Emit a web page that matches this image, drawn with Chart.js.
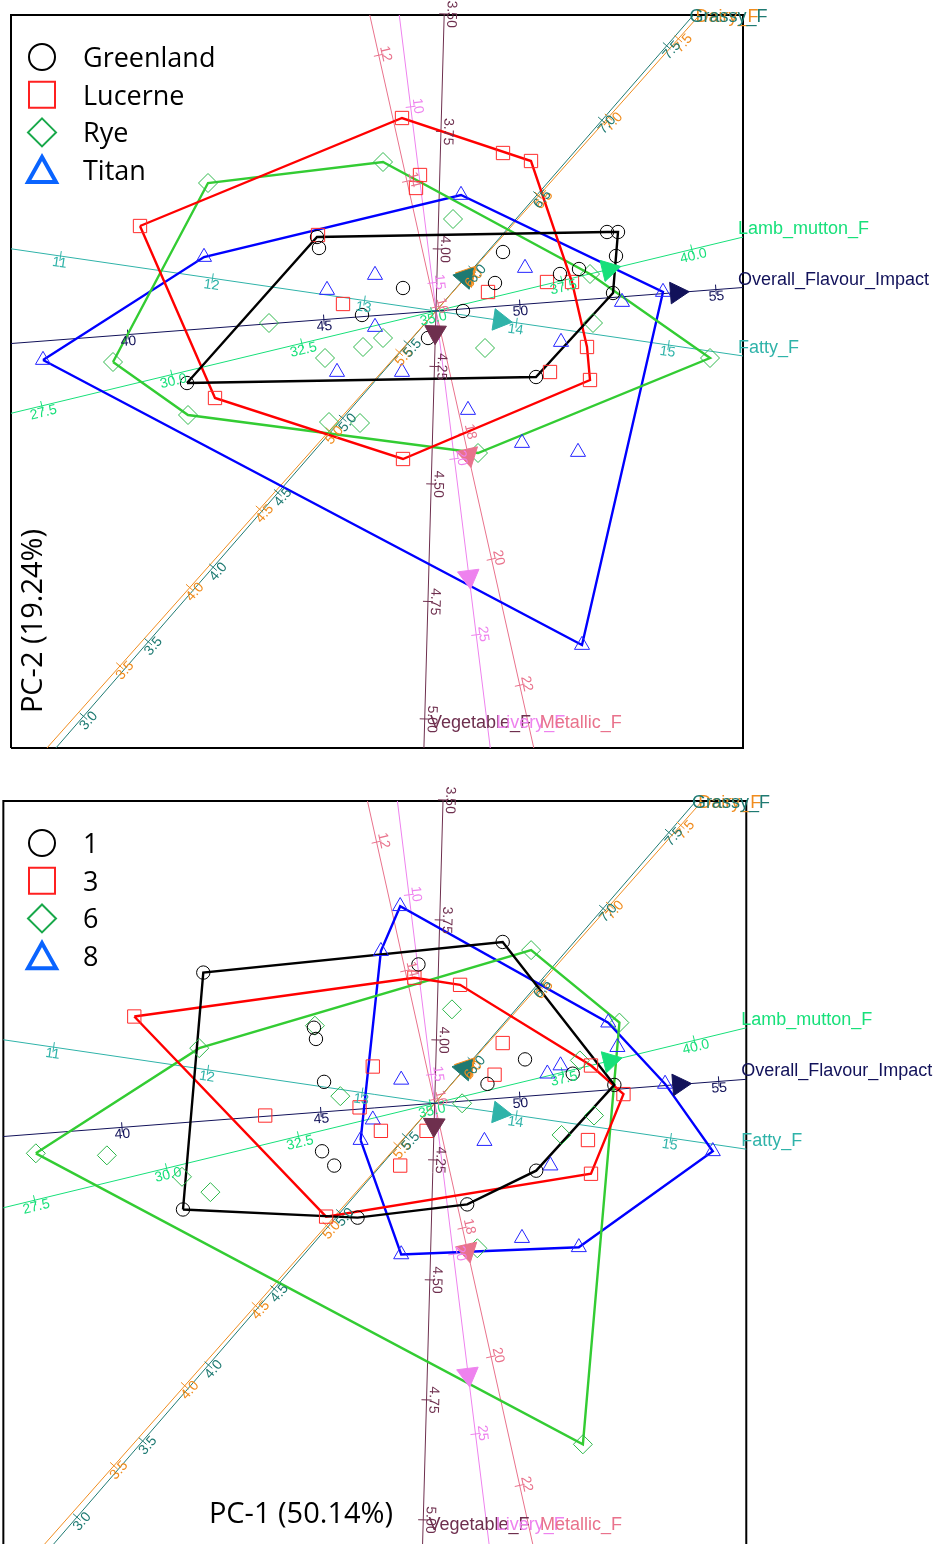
<!DOCTYPE html>
<html>
<head>
<meta charset="utf-8">
<script src="https://cdn.jsdelivr.net/npm/chart.js@4.4.1/dist/chart.umd.min.js"></script>
<style>
  html, body { margin: 0; padding: 0; background: #ffffff; }
  canvas { display: block; }
</style>
</head>
<body>
<canvas id="byBreed" width="938" height="770"></canvas>
<canvas id="byTime" width="938" height="774"></canvas>
<script>
// ---- sample scores (PC-1, PC-2) per breed, with the sampling time of each sample ----
const breeds = ['Greenland', 'Lucerne', 'Rye', 'Titan'];
const times = [1, 3, 6, 8];

const greenlandPC1 = [-2.49, -1.19, -1.17, -0.33, -0.74, -0.08, 0.27, 0.59, 0.67, 1.24, 1.43, 1.71, 1.82, 1.80, 1.77, 1.00];
const greenlandPC2 = [-0.72, 0.74, 0.63, 0.23, -0.04, -0.27, 0.00, 0.28, 0.59, 0.37, 0.42, 0.79, 0.79, 0.55, 0.18, -0.66];
const greenlandTime = [6, 1, 1, 8, 3, 3, 6, 3, 3, 8, 6, 8, 6, 8, 1, 1];

const lucernePC1 = [-2.96, -0.34, 0.67, 0.95, -0.16, -0.20, -1.18, 0.52, 1.11, 1.36, -0.93, 1.51, 1.14, 1.54, -0.33, -2.21];
const lucernePC2 = [0.85, 1.93, 1.58, 1.50, 1.36, 1.23, 0.76, 0.19, 0.29, 0.29, 0.07, -0.36, -0.61, -0.69, -1.48, -0.87];
const lucerneTime = [3, 8, 1, 6, 1, 3, 6, 1, 8, 1, 6, 3, 8, 3, 8, 6];

const ryePC1 = [-2.28, -0.53, 0.17, -1.67, -3.23, 1.54, 1.57, 2.74, -0.53, -0.73, -1.11, 0.49, -1.07, -0.76, 0.42, -2.48];
const ryePC2 = [1.28, 1.49, 0.92, -0.12, -0.51, 0.37, -0.12, -0.47, -0.27, -0.36, -0.47, -0.37, -1.11, -1.12, -1.42, -1.04];
const ryeTime = [1, 8, 6, 3, 6, 3, 6, 8, 3, 8, 1, 8, 3, 1, 6, 1];

const titanPC1 = [-2.32, -3.93, 0.25, -0.61, -1.09, 0.89, -0.61, 1.25, -0.99, -0.34, 1.86, 2.27, 0.32, 0.86, 1.42, 1.46];
const titanPC2 = [0.54, -0.49, 1.16, 0.36, 0.21, 0.43, -0.16, -0.31, -0.61, -0.61, 0.09, 0.19, -0.99, -1.32, -1.41, -3.34];
const titanTime = [6, 6, 3, 3, 1, 1, 8, 6, 1, 3, 3, 8, 1, 8, 8, 6];

// ---- calibrated variable axes: value at the origin and PC shift per unit of the variable ----
const variables = ['Overall_Flavour_Impact', 'Fatty_F', 'Lamb_mutton_F', 'Dairy_F', 'Grassy_F', 'Vegetable_F', 'Livery_F', 'Metallic_F'];
const varCentre  = [47.86, 13.47, 35.08, 5.764, 5.72, 4.132, 15.8, 16.06];
const varStepPC1 = [0.392, 1.52, 0.52, 1.396, 1.296, -0.13, 0.0437, 0.141];
const varStepPC2 = [0.030, -0.2225, 0.1252, 1.568, 1.49, -4.70, -0.352, -0.63];
const varArrow   = [54.0, 13.89, 38.4, 5.99, 5.945, 4.177, 23.35, 18.35];
const varDecimals = [0, 0, 1, 1, 1, 2, 0, 0];

const overallTicks   = [40, 45, 50, 55];
const fattyTicks     = [11, 12, 13, 14, 15];
const lambTicks      = [27.5, 30, 32.5, 35, 37.5, 40];
const dairyTicks     = [3.5, 4, 4.5, 5, 5.5, 6, 6.5, 7, 7.5];
const grassyTicks    = [3, 3.5, 4, 4.5, 5, 5.5, 6, 6.5, 7, 7.5];
const vegetableTicks = [3.5, 3.75, 4, 4.25, 4.5, 4.75, 5];
const liveryTicks    = [10, 15, 20, 25];
const metallicTicks  = [12, 14, 16, 18, 20, 22];
const varTicks = [overallTicks, fattyTicks, lambTicks, dairyTicks, grassyTicks, vegetableTicks, liveryTicks, metallicTicks];

// ---- plot window (PC units) ----
const frameX = [-4.25, 3.07];
const frameY = [-4.37, 2.96];

// ---- styles ----
const varColour = ['#12125a', '#2fb3a9', '#17e07a', '#f08c1e', '#1e7a72', '#6e2f4e', '#ee82ee', '#e9728c'];
const groupStyle = [
  { shape: 'circle',   radius: 6.7, colour: '#000000', hull: '#000000', key: 'circle',   keyColour: '#000000', keyWidth: 2 },
  { shape: 'rect',     radius: 9.4, colour: '#ff2a2a', hull: '#ff0000', key: 'square',   keyColour: '#ff2020', keyWidth: 2 },
  { shape: 'rectRot',  radius: 9.5, colour: '#2fb84c', hull: '#33cc33', key: 'diamond',  keyColour: '#18a84a', keyWidth: 2 },
  { shape: 'triangle', radius: 8.7, colour: '#2424ff', hull: '#0000ff', key: 'triangle', keyColour: '#0a64ff', keyWidth: 4 }
];

// ---- helpers ----
const pc1ByBreed = [greenlandPC1, lucernePC1, ryePC1, titanPC1];
const pc2ByBreed = [greenlandPC2, lucernePC2, ryePC2, titanPC2];
const timeByBreed = [greenlandTime, lucerneTime, ryeTime, titanTime];

const samples = [];
breeds.forEach((b, bi) => {
  pc1ByBreed[bi].forEach((x, i) => {
    samples.push({ x: x, y: pc2ByBreed[bi][i], breed: bi, time: times.indexOf(timeByBreed[bi][i]) });
  });
});

function pcAt(v, t) {
  return { x: (t - varCentre[v]) * varStepPC1[v], y: (t - varCentre[v]) * varStepPC2[v] };
}

// part of a variable axis that lies inside the plot window
function axisRange(v) {
  let lo = -Infinity, hi = Infinity, hiSide = '';
  const c = varCentre[v];
  [[varStepPC1[v], frameX, 'left', 'right'], [varStepPC2[v], frameY, 'bottom', 'top']].forEach(([s, r, sLo, sHi]) => {
    let a = c + r[0] / s, b = c + r[1] / s, aSide = sLo, bSide = sHi;
    if (a > b) { [a, b] = [b, a]; [aSide, bSide] = [bSide, aSide]; }
    lo = Math.max(lo, a);
    if (b < hi) { hi = b; hiSide = bSide; }
  });
  return { lo, hi, hiSide };
}

function convexHull(pts) {
  const p = pts.map(q => ({ x: q.x, y: q.y })).sort((a, b) => a.x - b.x || a.y - b.y);
  const cross = (o, a, b) => (a.x - o.x) * (b.y - o.y) - (a.y - o.y) * (b.x - o.x);
  const lower = [], upper = [];
  for (const q of p) {
    while (lower.length >= 2 && cross(lower[lower.length - 2], lower[lower.length - 1], q) <= 0) lower.pop();
    lower.push(q);
  }
  for (const q of p.slice().reverse()) {
    while (upper.length >= 2 && cross(upper[upper.length - 2], upper[upper.length - 1], q) <= 0) upper.pop();
    upper.push(q);
  }
  lower.pop(); upper.pop();
  const h = lower.concat(upper);
  h.push(h[0]);
  return h;
}

function axisDatasets() {
  const sets = [];
  variables.forEach((name, v) => {
    const r = axisRange(v);
    sets.push({
      label: name, data: [pcAt(v, Math.min(r.lo, varTicks[v][0])), pcAt(v, r.hi)],
      showLine: true, borderColor: varColour[v], borderWidth: 1, pointRadius: 0, order: 8
    });
    const len = Math.hypot(varStepPC1[v], varStepPC2[v]);
    const nx = -varStepPC2[v] / len * 0.05, ny = varStepPC1[v] / len * 0.05;
    const tickData = [];
    varTicks[v].forEach(t => {
      const p = pcAt(v, t);
      tickData.push({ x: p.x - nx, y: p.y - ny }, { x: p.x + nx, y: p.y + ny }, { x: p.x, y: null });
    });
    sets.push({ label: name + ' ticks', data: tickData, showLine: true, spanGaps: false,
      borderColor: varColour[v], borderWidth: 1, pointRadius: 0, order: 7 });
  });
  sets.push({
    label: 'arrows', data: variables.map((n, v) => pcAt(v, varArrow[v])),
    pointStyle: 'triangle', pointRadius: 12.5, pointBorderWidth: 1,
    pointBackgroundColor: varColour, pointBorderColor: varColour,
    pointRotation: (ctx) => {
      const v = ctx.dataIndex, xs = ctx.chart.scales.x, ys = ctx.chart.scales.y;
      if (v === undefined || !xs) return 0;
      const dx = xs.getPixelForValue(varStepPC1[v]) - xs.getPixelForValue(0);
      const dy = ys.getPixelForValue(varStepPC2[v]) - ys.getPixelForValue(0);
      return Math.atan2(dx, -dy) * 180 / Math.PI;
    },
    order: 1
  });
  sets.push({
    label: 'frame',
    data: [{ x: frameX[0], y: frameY[0] }, { x: frameX[1], y: frameY[0] }, { x: frameX[1], y: frameY[1] },
           { x: frameX[0], y: frameY[1] }, { x: frameX[0], y: frameY[0] }],
    showLine: true, borderColor: '#000000', borderWidth: 2, pointRadius: 0, order: 9
  });
  return sets;
}

function groupDatasets(names, memberOf) {
  const sets = [];
  names.forEach((name, g) => {
    const pts = samples.filter(s => memberOf(s) === g).map(s => ({ x: s.x, y: s.y }));
    const st = groupStyle[g];
    sets.push({ label: name + ' hull', data: convexHull(pts), showLine: true,
      borderColor: st.hull, borderWidth: 2.4, pointRadius: 0, order: 5 });
    sets.push({ label: String(name), data: pts, pointStyle: st.shape, pointRadius: st.radius,
      pointBorderColor: st.colour, pointBackgroundColor: 'rgba(0,0,0,0)', pointBorderWidth: 1, order: 3 });
  });
  return sets;
}

// tick labels along each variable axis and the variable names at the axis ends
const biplotLabels = {
  id: 'biplotLabels',
  afterDatasetsDraw(chart) {
    const ctx = chart.ctx, xs = chart.scales.x, ys = chart.scales.y;
    const pix = p => [xs.getPixelForValue(p.x), ys.getPixelForValue(p.y)];
    ctx.save();
    variables.forEach((name, v) => {
      const o = pix({ x: 0, y: 0 }), u = pix({ x: varStepPC1[v], y: varStepPC2[v] });
      let dx = u[0] - o[0], dy = u[1] - o[1];
      const L = Math.hypot(dx, dy); dx /= L; dy /= L;
      let ang = Math.atan2(dy, dx);
      if (ang > 100 * Math.PI / 180) ang -= Math.PI;
      if (ang <= -80 * Math.PI / 180) ang += Math.PI;
      let nx = -dy, ny = dx;
      if (nx + ny < 0) { nx = -nx; ny = -ny; }
      ctx.fillStyle = varColour[v];
      ctx.font = '14px "Liberation Sans", Arial, sans-serif';
      ctx.textAlign = 'center';
      ctx.textBaseline = 'middle';
      varTicks[v].forEach(t => {
        const [tx, ty] = pix(pcAt(v, t));
        ctx.save();
        ctx.translate(tx + 7 * nx, ty + 7 * ny);
        ctx.rotate(ang);
        ctx.fillText(t.toFixed(varDecimals[v]), 0, 0);
        ctx.restore();
      });
      const r = axisRange(v);
      const [ex, ey] = pix(pcAt(v, r.hi));
      ctx.font = '18px "Liberation Sans", Arial, sans-serif';
      ctx.textAlign = 'left';
      ctx.textBaseline = 'alphabetic';
      if (r.hiSide === 'right') ctx.fillText(name, ex - 5, ey - 3);
      else if (r.hiSide === 'top') ctx.fillText(name, ex - 4, ey + 7);
      else ctx.fillText(name, ex + 6, ey - 20);
    });
    ctx.restore();
  }
};

// group key in the upper left corner and the axis title
function panelText(names, title, titleX, titleY, rotated) {
  return {
    id: 'panelText',
    afterDraw(chart) {
      const ctx = chart.ctx;
      const top = chart.scales.y.getPixelForValue(frameY[1]);
      ctx.save();
      names.forEach((name, i) => {
        const st = groupStyle[i];
        const cx = 42, cy = top + 42 + 37.7 * i;
        ctx.strokeStyle = st.keyColour;
        ctx.lineWidth = st.keyWidth;
        ctx.lineJoin = 'miter';
        ctx.beginPath();
        if (st.key === 'circle') ctx.arc(cx, cy, 13, 0, 2 * Math.PI);
        else if (st.key === 'square') ctx.rect(cx - 13, cy - 13, 26, 26);
        else if (st.key === 'diamond') {
          ctx.moveTo(cx, cy - 14); ctx.lineTo(cx + 14, cy); ctx.lineTo(cx, cy + 14); ctx.lineTo(cx - 14, cy); ctx.closePath();
        } else {
          ctx.moveTo(cx, cy - 13); ctx.lineTo(cx + 14, cy + 12); ctx.lineTo(cx - 14, cy + 12); ctx.closePath();
        }
        ctx.stroke();
        ctx.fillStyle = '#000000';
        ctx.font = '27px "Open Sans", sans-serif';
        ctx.textAlign = 'left';
        ctx.textBaseline = 'alphabetic';
        ctx.fillText(String(name), 83, cy + 10);
      });
      ctx.font = '29px "Open Sans", sans-serif';
      ctx.fillStyle = '#000000';
      ctx.textAlign = 'center';
      ctx.textBaseline = 'alphabetic';
      ctx.translate(titleX, titleY);
      if (rotated) ctx.rotate(-Math.PI / 2);
      ctx.fillText(title, 0, 0);
      ctx.restore();
    }
  };
}

function makeChart(id, groupSets, view, textPlugin) {
  return new Chart(document.getElementById(id), {
    type: 'scatter',
    data: { datasets: groupSets.concat(axisDatasets()) },
    options: {
      responsive: false, animation: false, events: [], devicePixelRatio: 1,
      layout: { padding: 0, autoPadding: false },
      scales: {
        x: { type: 'linear', display: false, bounds: 'data', min: view.x[0], max: view.x[1] },
        y: { type: 'linear', display: false, bounds: 'data', min: view.y[0], max: view.y[1] }
      },
      plugins: { legend: { display: false }, tooltip: { enabled: false } }
    },
    plugins: [biplotLabels, textPlugin]
  });
}

makeChart('byBreed', groupDatasets(breeds, s => s.breed), { x: [-4.36, 5.02], y: [-4.59, 3.11] },
  panelText(breeds, 'PC-2 (19.24%)', 42, 621, true));
makeChart('byTime', groupDatasets(times, s => s.time), { x: [-4.283, 4.959], y: [-4.316, 3.264] },
  panelText(times, 'PC-1 (50.14%)', 301, 753, false));
</script>
</body>
</html>
